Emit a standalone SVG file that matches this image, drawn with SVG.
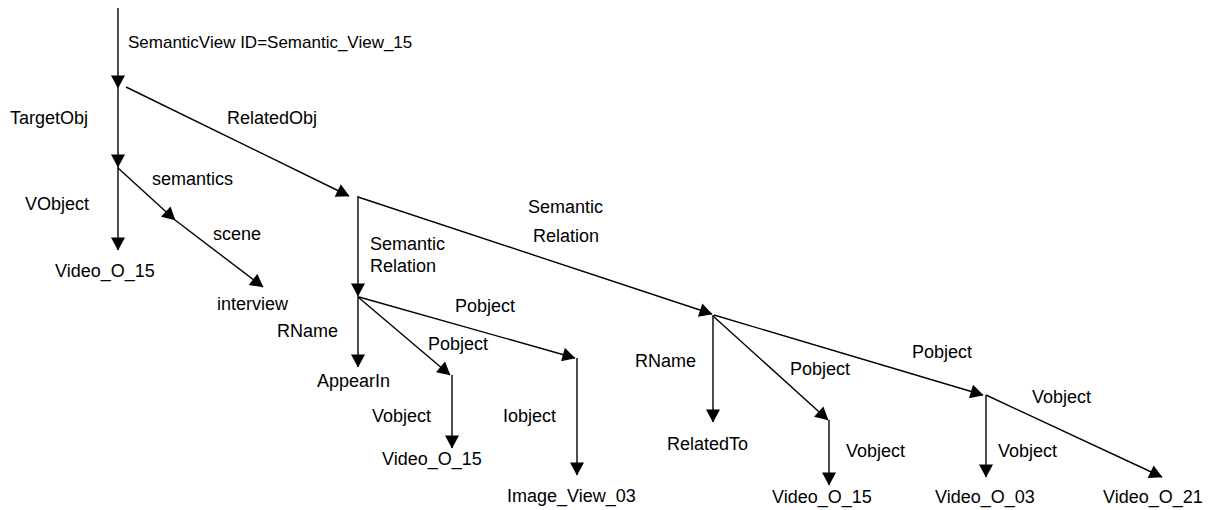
<svg xmlns="http://www.w3.org/2000/svg" width="1210" height="510" viewBox="0 0 1210 510">
<defs>
<marker id="ah" markerUnits="userSpaceOnUse" markerWidth="14" markerHeight="14" viewBox="0 0 13 14" refX="12.5" refY="7" orient="auto">
<path d="M0,0 L13,7 L0,14 z" fill="#000"/>
</marker>
<style>
.c{stroke:#000;stroke-width:1.4;fill:none;marker-end:url(#ah)}
text{font-family:"Liberation Sans",Arial,sans-serif;font-size:18px;fill:#000}
.t{font-size:17px}
</style>
</defs>
<rect width="1210" height="510" fill="#fff"/>
<g id="connectors">
<path class="c" d="M118,8 L118,88"/>
<path class="c" d="M118,88 L118,167"/>
<path class="c" d="M126,87 L349,196"/>
<path class="c" d="M118,167 L118,250"/>
<path class="c" d="M118,168 L175,220"/>
<path class="c" d="M175,220 L263,287"/>
<path class="c" d="M358,196 L358,296"/>
<path class="c" d="M358,197 L712,314"/>
<path class="c" d="M358,296 L358,367"/>
<path class="c" d="M358,297 L450,375"/>
<path class="c" d="M452,375 L452,448"/>
<path class="c" d="M359,297 L575,358"/>
<path class="c" d="M577,358 L577,475"/>
<path class="c" d="M713,315 L713,422"/>
<path class="c" d="M713,316 L828,420"/>
<path class="c" d="M829,420 L829,485"/>
<path class="c" d="M714,315 L983,395"/>
<path class="c" d="M986,395 L986,477"/>
<path class="c" d="M986,395 L1162,477"/>
<g id="edge-labels">
<text class="t" x="128" y="48">SemanticView ID=Semantic_View_15</text>
<text x="10" y="124">TargetObj</text>
<text x="227" y="124">RelatedObj</text>
<text x="25" y="210">VObject</text>
<text x="152" y="185">semantics</text>
<text x="213" y="240">scene</text>
<text x="370" y="250">Semantic</text>
<text x="370" y="272">Relation</text>
<text x="528" y="213">Semantic</text>
<text x="533" y="242">Relation</text>
<text x="277" y="337">RName</text>
<text x="455" y="312">Pobject</text>
<text x="428" y="350">Pobject</text>
<text x="372" y="422">Vobject</text>
<text x="503" y="422">Iobject</text>
<text x="635" y="367">RName</text>
<text x="790" y="375">Pobject</text>
<text x="846" y="457">Vobject</text>
<text x="912" y="358">Pobject</text>
<text x="998" y="457">Vobject</text>
<text x="1032" y="403">Vobject</text>
</g>
</g>
<g id="n-video-o-15-a"><text x="55" y="277">Video_O_15</text></g>
<g id="n-interview"><text x="217" y="310">interview</text></g>
<g id="n-appearin"><text x="317" y="387">AppearIn</text></g>
<g id="n-video-o-15-b"><text x="382" y="465">Video_O_15</text></g>
<g id="n-image-view-03"><text x="507" y="502">Image_View_03</text></g>
<g id="n-relatedto"><text x="667" y="450">RelatedTo</text></g>
<g id="n-video-o-15-c"><text x="772" y="503">Video_O_15</text></g>
<g id="n-video-o-03"><text x="935" y="503">Video_O_03</text></g>
<g id="n-video-o-21"><text x="1103" y="503">Video_O_21</text></g>
</svg>
